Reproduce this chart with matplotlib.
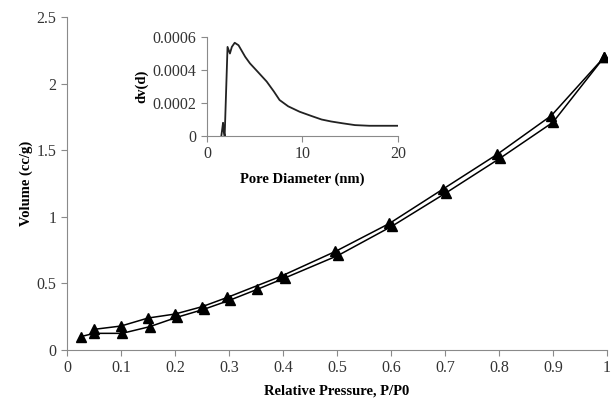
import matplotlib
matplotlib.use("Agg")
import matplotlib.pyplot as plt

plt.rcParams['font.family'] = ['Liberation Serif', 'DejaVu Serif']

# nitrogen isotherm, adsorption branch (lower)
p_ads = [0.025, 0.05, 0.102, 0.153, 0.203, 0.253, 0.302, 0.352, 0.403, 0.502, 0.602, 0.702, 0.802, 0.9, 0.995]
v_ads = [0.10, 0.125, 0.125, 0.175, 0.245, 0.305, 0.375, 0.455, 0.54, 0.71, 0.93, 1.18, 1.44, 1.71, 2.2]

# desorption branch (upper)
p_des = [0.995, 0.897, 0.797, 0.697, 0.597, 0.497, 0.397, 0.297, 0.25, 0.2, 0.15, 0.1, 0.05]
v_des = [2.2, 1.76, 1.47, 1.21, 0.95, 0.74, 0.555, 0.395, 0.325, 0.27, 0.24, 0.18, 0.155]

# pore size distribution
pore_d = [1.5, 1.68, 1.75, 1.85, 2.15, 2.4, 2.6, 2.9, 3.3, 4.0, 4.5, 5.3, 6.25, 7.0, 7.6,
          8.5, 9.7, 11.0, 12.0, 13.0, 14.2, 15.5, 17.0, 20.0]
dv_d = [0.0, 0.00008, 0.00003, 0.0, 0.00054, 0.0005, 0.00054, 0.000565, 0.00055, 0.00048,
        0.00044, 0.00039, 0.00033, 0.00027, 0.000218, 0.00018, 0.000147, 0.00012, 0.0001,
        0.000088, 0.000077, 0.000066, 0.000062, 0.000062]

spine_col = '#8a8a8a'
text_col = '#333333'

fig = plt.figure(figsize=(6.15, 4.0), dpi=100)
ax = fig.add_axes([0.109, 0.125, 0.878, 0.8325])

ax.plot(p_ads, v_ads, color='black', lw=1.1, marker='^', ms=7.5)
ax.plot(p_des, v_des, color='black', lw=1.1, marker='^', ms=7.5)

ax.set_xlim(0, 1)
ax.set_ylim(0, 2.5)
ax.set_xticks([i / 10 for i in range(11)])
ax.set_xticklabels(['0', '0.1', '0.2', '0.3', '0.4', '0.5', '0.6', '0.7', '0.8', '0.9', '1'])
ax.set_yticks([0, 0.5, 1, 1.5, 2, 2.5])
ax.set_yticklabels(['0', '0.5', '1', '1.5', '2', '2.5'])
for s in ['top', 'right']:
    ax.spines[s].set_visible(False)
for s in ['left', 'bottom']:
    ax.spines[s].set_color(spine_col)
ax.tick_params(direction='out', length=4, color=spine_col, labelsize=11.5, labelcolor=text_col)
ax.set_xlabel('Relative Pressure, P/P0', fontsize=10.5, fontweight='bold', labelpad=6)
ax.set_ylabel('Volume (cc/g)', fontsize=10.5, fontweight='bold', labelpad=3)

# inset: pore size distribution
ins = fig.add_axes([0.3366, 0.66, 0.3105, 0.2475])
ins.plot(pore_d, dv_d, color='#222222', lw=1.3)
ins.set_xlim(0, 20)
ins.set_ylim(0, 0.0006)
ins.set_xticks([0, 10, 20])
ins.set_yticks([0, 0.0002, 0.0004, 0.0006])
ins.set_yticklabels(['0', '0.0002', '0.0004', '0.0006'])
for s in ['top', 'right']:
    ins.spines[s].set_visible(False)
for s in ['left', 'bottom']:
    ins.spines[s].set_color(spine_col)
ins.tick_params(direction='out', length=4, color=spine_col, labelsize=11.5, labelcolor=text_col)
ins.set_xlabel('Pore Diameter (nm)', fontsize=10.5, fontweight='bold', labelpad=7.5)
ins.set_ylabel('dv(d)', fontsize=10.5, fontweight='bold', labelpad=3)

fig.savefig('out.png', dpi=100)
